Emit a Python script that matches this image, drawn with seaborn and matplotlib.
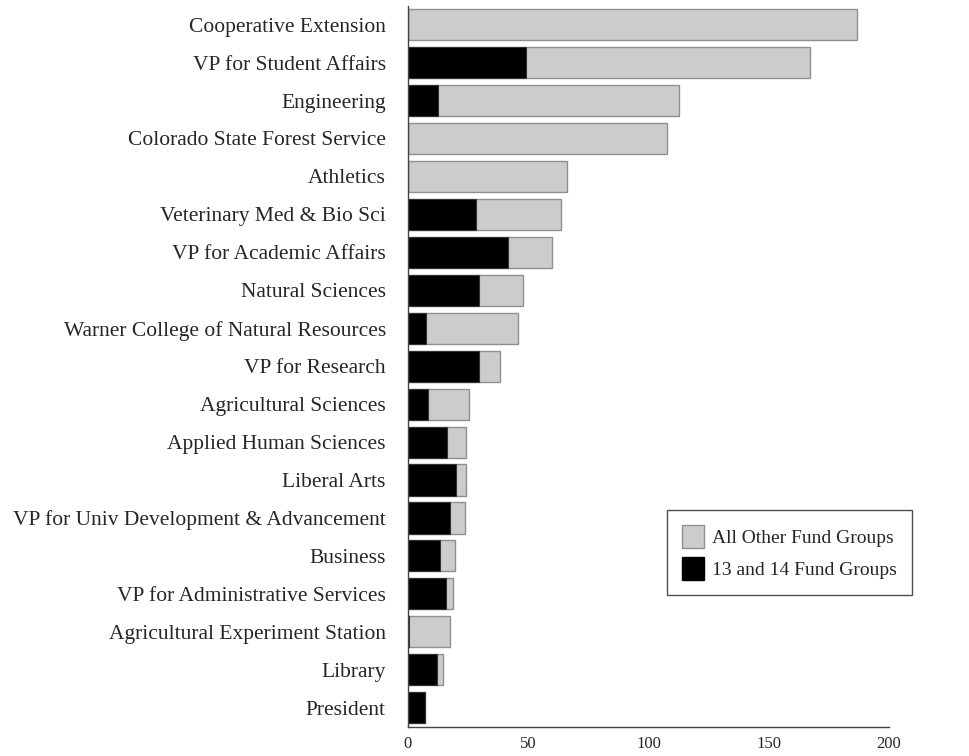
import matplotlib
matplotlib.use("Agg")
import matplotlib.pyplot as plt
from matplotlib.patches import Patch
import seaborn as sns
import pandas as pd

units = [
    "Cooperative Extension",
    "VP for Student Affairs",
    "Engineering",
    "Colorado State Forest Service",
    "Athletics",
    "Veterinary Med & Bio Sci",
    "VP for Academic Affairs",
    "Natural Sciences",
    "Warner College of Natural Resources",
    "VP for Research",
    "Agricultural Sciences",
    "Applied Human Sciences",
    "Liberal Arts",
    "VP for Univ Development & Advancement",
    "Business",
    "VP for Administrative Services",
    "Agricultural Experiment Station",
    "Library",
    "President",
]
fund_13_14 = [0.0, 49.2, 12.6, 0.0, 0.0, 28.4, 41.4, 29.5, 7.6, 29.7,
              8.5, 16.4, 20.0, 17.6, 13.3, 15.8, 0.6, 12.2, 7.1]
all_other = [186.5, 118.0, 99.9, 107.6, 66.0, 35.1, 18.3, 18.2, 38.0, 8.4,
             16.7, 7.9, 4.3, 6.0, 6.4, 2.8, 17.0, 2.4, 0.0]
legend_labels = ["All Other Fund Groups", "13 and 14 Fund Groups"]
x_ticks = [0, 50, 100, 150, 200]

df = pd.DataFrame({"unit": units, "f1314": fund_13_14, "other": all_other})
df["total"] = df["f1314"] + df["other"]

sns.set_style("white")
plt.rcParams["font.family"] = ["Liberation Serif", "DejaVu Serif"]

fig = plt.figure(figsize=(9.7, 7.56), dpi=100)
ax = fig.add_axes([0.4206, 0.0388, 0.4959, 0.9537])

gray = "#cccccc"
# total length in gray, 13/14 share overlaid in black
sns.barplot(data=df, y="unit", x="total", orient="h", color=gray,
            edgecolor="#8f8f8f", linewidth=1.0, width=0.82,
            saturation=1, ax=ax)
sns.barplot(data=df, y="unit", x="f1314", orient="h", color="black",
            edgecolor="#333333", linewidth=0.8, width=0.82,
            saturation=1, ax=ax)

ax.set_xlim(0, 200)
ax.set_ylim(18.5, -0.5)
ax.set_xticks(x_ticks)
ax.set_xticklabels([str(t) for t in x_ticks], fontsize=12)
ax.tick_params(axis="x", length=0, pad=7)
ax.tick_params(axis="y", length=0, pad=16, labelsize=15.5)
ax.set_xlabel("")
ax.set_ylabel("")

for side in ["top", "right"]:
    ax.spines[side].set_visible(False)
for side in ["left", "bottom"]:
    ax.spines[side].set_color("#444444")
    ax.spines[side].set_linewidth(1.0)

handles = [
    Patch(facecolor=gray, edgecolor="#8f8f8f", label=legend_labels[0]),
    Patch(facecolor="black", edgecolor="black", label=legend_labels[1]),
]
leg = ax.legend(handles=handles, loc="upper left",
                bbox_to_anchor=(0.5385, 0.3006), borderaxespad=0,
                fontsize=14, frameon=True, fancybox=False, borderpad=0.75,
                handlelength=1.13, handleheight=1.45, labelspacing=0.5,
                handletextpad=0.45)
leg.get_frame().set_edgecolor("#222222")
leg.get_frame().set_linewidth(1.0)

fig.savefig("out.png", dpi=100)
